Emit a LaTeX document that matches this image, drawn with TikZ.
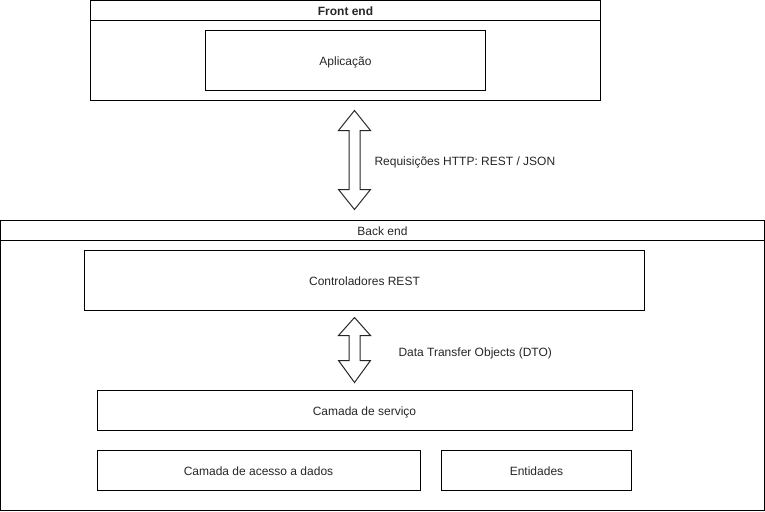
\documentclass[tikz,border=0pt]{standalone}
\usepackage{fontspec}
\setmainfont{Liberation Sans}
\usetikzlibrary{calc}
\begin{document}
\begin{tikzpicture}[x=1pt,y=-1pt,line width=1pt,
  txt/.style={font=\fontsize{12}{14}\selectfont,text=black!85,text height=10pt,text depth=0pt},
  box/.style={draw,black,inner sep=0pt,txt},
  lbl/.style={anchor=west,inner sep=0pt,txt},
  dblarrow/.style={draw,black!85,line width=1pt,fill=white,line join=miter}]
\useasboundingbox (0,0) rectangle (765,511);
% Front end container
\draw (90.5,0.5) rectangle (600.5,100.5);
\draw (90.5,20.5) -- (600.5,20.5);
\node[txt,font=\bfseries\fontsize{12}{14}\selectfont,inner sep=0pt] (fe) at (345.5,10.5) {Front end};
\node[box,minimum width=280pt,minimum height=60pt] (app) at (345.5,60.5) {Aplicação};
% Arrow 1
\coordinate (a1t) at (354.5,110.5);
\coordinate (a1b) at (354.5,209.5);
\draw[dblarrow] (a1t) -- ++(16,20) -- ++(-10.5,0) -- ($(a1b)+(5.5,-20)$) -- ++(10.5,0) -- (a1b) -- ++(-16,-20) -- ++(10.5,0) -- ($(a1t)+(-5.5,20)$) -- ++(-10.5,0) -- cycle;
\node[lbl] (l1) at (374,160.5) {Requisições HTTP: REST / JSON};
% Back end container
\draw (0.5,220.5) rectangle (764.5,510.5);
\draw (0.5,240.5) -- (764.5,240.5);
\node[txt,inner sep=0pt] (be) at (382.5,230.5) {Back end};
\node[box,minimum width=560pt,minimum height=60pt] (ctrl) at (364.5,280.5) {Controladores REST};
% Arrow 2
\coordinate (a2t) at (354.5,317.5);
\coordinate (a2b) at (354.5,382.5);
\draw[dblarrow] (a2t) -- ++(16,18) -- ++(-10.5,0) -- ($(a2b)+(5.5,-22)$) -- ++(10.5,0) -- (a2b) -- ++(-16,-22) -- ++(10.5,0) -- ($(a2t)+(-5.5,18)$) -- ++(-10.5,0) -- cycle;
\node[lbl] (l2) at (398,351.5) {Data Transfer Objects (DTO)};
\node[box,minimum width=535pt,minimum height=40pt] (svc) at (364.5,410.5) {Camada de serviço};
\node[box,minimum width=323pt,minimum height=40pt] (dao) at (258.5,470.5) {Camada de acesso a dados};
\node[box,minimum width=190pt,minimum height=40pt] (ent) at (536.5,470.5) {Entidades};
\end{tikzpicture}
\end{document}
